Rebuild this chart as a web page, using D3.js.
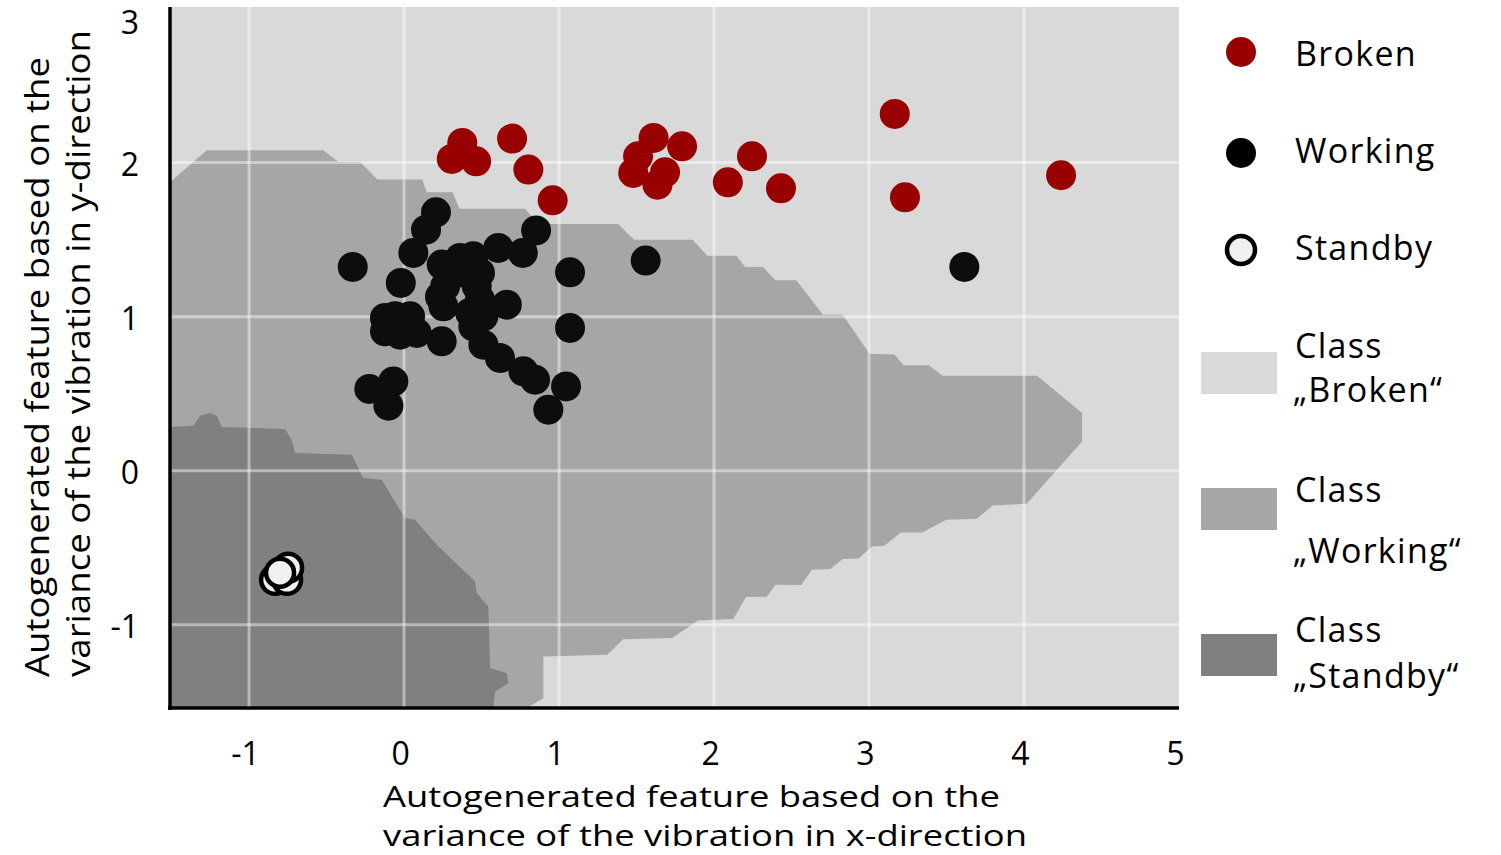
<!DOCTYPE html>
<html>
<head>
<meta charset="utf-8">
<script src="https://cdn.jsdelivr.net/npm/d3@7"></script>
<style>
  body { margin: 0; background: #fff; }
  svg { display: block; font-family: 'Open Sans', 'Noto Sans', sans-serif; }
</style>
</head>
<body>
<div id="viz"></div>
<script>
const width = 1501;
const height = 855;
const plot = {left: 170, right: 1179, top: 7, bottom: 708};

const brokenPoints = [
  [0.376, 2.128], [0.308, 2.024], [0.465, 2.008], [0.697, 2.156], [0.802, 1.955],
  [0.959, 1.755], [1.610, 2.160], [1.510, 2.041], [1.479, 1.933], [1.794, 2.106],
  [1.684, 1.937], [1.635, 1.857], [2.245, 2.041], [2.089, 1.872], [2.432, 1.833],
  [3.166, 2.316], [3.232, 1.775], [4.239, 1.918]
];
const workingPoints = [
  [0.206, 1.677], [0.142, 1.565], [0.060, 1.414], [-0.331, 1.323], [-0.021, 1.219],
  [0.243, 1.338], [0.361, 1.381], [0.447, 1.392], [0.490, 1.284], [0.608, 1.446],
  [0.766, 1.414], [0.852, 1.560], [1.071, 1.288], [0.265, 1.197], [0.254, 1.067],
  [0.469, 1.197], [0.663, 1.078], [0.512, 1.002], [0.447, 0.937], [-0.058, 1.002],
  [-0.123, 0.992], [0.039, 1.002], [-0.123, 0.905], [-0.026, 0.883], [0.082, 0.894],
  [0.243, 0.840], [0.512, 0.818], [0.619, 0.732], [0.770, 0.645], [0.845, 0.591],
  [1.071, 0.927], [1.045, 0.547], [0.931, 0.396], [-0.224, 0.531], [-0.069, 0.580],
  [-0.101, 0.422], [0.381, 1.286], [0.232, 1.130], [0.490, 1.110], [0.426, 1.026],
  [1.559, 1.364], [3.615, 1.323]
];
const standbyPoints = [
  [-0.832, -0.708], [-0.755, -0.708], [-0.748, -0.630], [-0.800, -0.662]
];

// Decision regions of the classifier (outline in feature units)
const workingRegion = [
  [-1.51, 1.872], [-1.273, 2.080], [-0.521, 2.080], [-0.424, 2.005], [-0.284, 2.005],
  [-0.172, 1.890], [0.118, 1.890], [0.146, 1.807], [0.314, 1.807], [0.357, 1.701],
  [0.781, 1.701], [0.866, 1.602], [1.381, 1.602], [1.484, 1.5], [1.862, 1.5],
  [1.957, 1.396], [2.144, 1.396], [2.201, 1.323], [2.316, 1.323], [2.395, 1.236],
  [2.531, 1.236], [2.703, 1.013], [2.830, 1.013], [3.004, 0.760], [3.164, 0.755],
  [3.224, 0.684], [3.386, 0.684], [3.475, 0.617], [4.084, 0.617], [4.375, 0.375],
  [4.375, 0.190], [4.017, -0.214], [3.797, -0.225], [3.697, -0.312], [3.499, -0.318],
  [3.343, -0.401], [3.205, -0.401], [3.099, -0.487], [3.021, -0.492], [2.932, -0.569],
  [2.830, -0.573], [2.751, -0.638], [2.632, -0.643], [2.562, -0.742], [2.397, -0.740],
  [2.340, -0.818], [2.206, -0.820], [2.125, -0.963], [1.897, -0.972], [1.730, -1.086],
  [1.413, -1.093], [1.312, -1.195], [0.899, -1.206], [0.899, -1.476], [0.792, -1.54],
  [-1.51, -1.54]
];
const standbyRegion = [
  [-1.51, 0.284], [-1.359, 0.292], [-1.316, 0.357], [-1.252, 0.375], [-1.208, 0.357],
  [-1.176, 0.284], [-0.768, 0.271], [-0.725, 0.201], [-0.703, 0.115], [-0.337, 0.104],
  [-0.263, -0.047], [-0.144, -0.058], [0.006, -0.307], [0.071, -0.318], [0.211, -0.481],
  [0.458, -0.719], [0.469, -0.794], [0.544, -0.881], [0.555, -1.281], [0.663, -1.314],
  [0.673, -1.379], [0.587, -1.433], [0.576, -1.54], [-1.51, -1.54]
];

const xTicks = [-1, 0, 1, 2, 3, 4, 5];
const yTicks = [-1, 0, 1, 2, 3];

const pointLegend = ['Broken', 'Working', 'Standby'];
const regionLegend = [['Class', '„Broken“'], ['Class', '„Working“'], ['Class', '„Standby“']];

const colors = {
  broken: '#990000', working: '#0d0d0d', standby: '#f0f0f0',
  regBroken: '#d9d9d9', regWorking: '#a6a6a6', regStandby: '#808080'
};

const svg = d3.select('#viz')
  .append('svg')
    .attr('width', width)
    .attr('height', height);

const xScale = d3.scaleLinear()
  .domain([-1.51, 5.0])
  .range([plot.left, plot.right]);
const yScale = d3.scaleLinear()
  .domain([-1.54, 3.01])
  .range([plot.bottom, plot.top]);

// background = class "Broken"
svg.append('rect')
  .attr('x', plot.left)
  .attr('y', plot.top)
  .attr('width', plot.right - plot.left)
  .attr('height', plot.bottom - plot.top)
  .attr('fill', colors.regBroken);

const regionLine = d3.line()
  .x(d => xScale(d[0]))
  .y(d => yScale(d[1]));

svg.append('path')
  .attr('d', regionLine(workingRegion) + 'Z')
  .attr('fill', colors.regWorking);
svg.append('path')
  .attr('d', regionLine(standbyRegion) + 'Z')
  .attr('fill', colors.regStandby);

// grid
const grid = svg.append('g')
  .attr('stroke', '#fff')
  .attr('stroke-opacity', 0.45)
  .attr('stroke-width', 3);
grid.selectAll('.vg')
  .data(xTicks.filter(d => d < 5))
  .join('line')
    .attr('x1', d => xScale(d))
    .attr('x2', d => xScale(d))
    .attr('y1', plot.top)
    .attr('y2', plot.bottom);
grid.selectAll('.hg')
  .data(yTicks.filter(d => d < 3))
  .join('line')
    .attr('x1', plot.left)
    .attr('x2', plot.right)
    .attr('y1', d => yScale(d))
    .attr('y2', d => yScale(d));

// points
const r = 15;
svg.append('g')
  .selectAll('circle')
  .data(workingPoints)
  .join('circle')
    .attr('cx', d => xScale(d[0]))
    .attr('cy', d => yScale(d[1]))
    .attr('r', r)
    .attr('fill', colors.working);
svg.append('g')
  .selectAll('circle')
  .data(brokenPoints)
  .join('circle')
    .attr('cx', d => xScale(d[0]))
    .attr('cy', d => yScale(d[1]))
    .attr('r', r)
    .attr('fill', colors.broken);
svg.append('g')
  .selectAll('circle')
  .data(standbyPoints)
  .join('circle')
    .attr('cx', d => xScale(d[0]))
    .attr('cy', d => yScale(d[1]))
    .attr('r', r - 1)
    .attr('fill', colors.standby)
    .attr('stroke', '#000')
    .attr('stroke-width', 4.5);

// axes (plain hyphen for negatives, as in the original)
const tickFmt = d => String(d);

const xAxis = d3.axisBottom(xScale)
  .tickValues(xTicks)
  .tickSize(0)
  .tickPadding(34)
  .tickFormat(tickFmt);
const xAxisGroup = svg.append('g')
  .attr('transform', `translate(0, ${plot.bottom})`)
  .call(xAxis);
xAxisGroup.select('.domain')
  .attr('d', `M${plot.left - 2},0H${plot.right}`)
  .attr('stroke', '#000')
  .attr('stroke-width', 3.5);
xAxisGroup.selectAll('text')
  .attr('x', -4)
  .style('font-size', '32px')
  .style('font-family', "'Open Sans', sans-serif")
  .attr('fill', '#000');

const yAxis = d3.axisLeft(yScale)
  .tickValues(yTicks)
  .tickSize(0)
  .tickPadding(31)
  .tickFormat(tickFmt);
const yAxisGroup = svg.append('g')
  .attr('transform', `translate(${plot.left}, 0)`)
  .call(yAxis);
yAxisGroup.select('.domain')
  .attr('d', `M0,${plot.top}V${plot.bottom + 2}`)
  .attr('stroke', '#000')
  .attr('stroke-width', 3.5);
yAxisGroup.selectAll('.tick')
  .attr('transform', d => `translate(0, ${Math.max(yScale(d) + 3, 24)})`);
yAxisGroup.selectAll('text')
  .style('font-size', '32px')
  .style('font-family', "'Open Sans', sans-serif")
  .attr('fill', '#000');

// axis titles
const xTitle = ['Autogenerated feature based on the', 'variance of the vibration in x-direction'];
svg.append('g')
  .selectAll('text')
  .data(xTitle)
  .join('text')
    .attr('x', 383)
    .attr('y', (d, i) => 807 + i * 39)
    .attr('textLength', (d, i) => i === 0 ? 617 : 644)
    .attr('lengthAdjust', 'spacingAndGlyphs')
    .style('font-size', '29px')
    .text(d => d);

const yTitle = ['Autogenerated feature based on the', 'variance of the vibration in y-direction'];
svg.append('g')
  .selectAll('text')
  .data(yTitle)
  .join('text')
    .attr('transform', (d, i) => `translate(${49 + i * 41}, 677) rotate(-90)`)
    .attr('textLength', (d, i) => i === 0 ? 620 : 647)
    .attr('lengthAdjust', 'spacingAndGlyphs')
    .style('font-size', '32px')
    .text(d => d);

// legend
const legend = svg.append('g')
  .style('font-size', '34px')
  .style('letter-spacing', '1.3px');
const dotY = [52, 153, 250];
const dotStyle = [
  {fill: colors.broken, stroke: 'none', r: 15},
  {fill: '#000', stroke: 'none', r: 15},
  {fill: colors.standby, stroke: '#000', r: 14}
];
legend.selectAll('circle')
  .data(pointLegend)
  .join('circle')
    .attr('cx', 1241)
    .attr('cy', (d, i) => dotY[i])
    .attr('r', (d, i) => dotStyle[i].r)
    .attr('fill', (d, i) => dotStyle[i].fill)
    .attr('stroke', (d, i) => dotStyle[i].stroke)
    .attr('stroke-width', 4.5);
legend.selectAll('.pt')
  .data(pointLegend)
  .join('text')
    .attr('class', 'pt')
    .attr('x', 1295)
    .attr('y', (d, i) => [66, 163, 260][i])
    .text(d => d);

const rectY = [352, 488, 634];
const regionColors = [colors.regBroken, colors.regWorking, colors.regStandby];
legend.selectAll('rect')
  .data(regionLegend)
  .join('rect')
    .attr('x', 1201)
    .attr('y', (d, i) => rectY[i])
    .attr('width', 76)
    .attr('height', 42)
    .attr('fill', (d, i) => regionColors[i]);
const lineY = [[358, 402], [502, 563], [642, 688]];
regionLegend.forEach((lines, i) => {
  legend.selectAll(`.rl${i}`)
    .data(lines)
    .join('text')
      .attr('class', `rl${i}`)
      .attr('x', (d, j) => j === 0 ? 1295 : 1293)
      .attr('y', (d, j) => lineY[i][j])
      .text(d => d);
});
</script>
</body>
</html>
